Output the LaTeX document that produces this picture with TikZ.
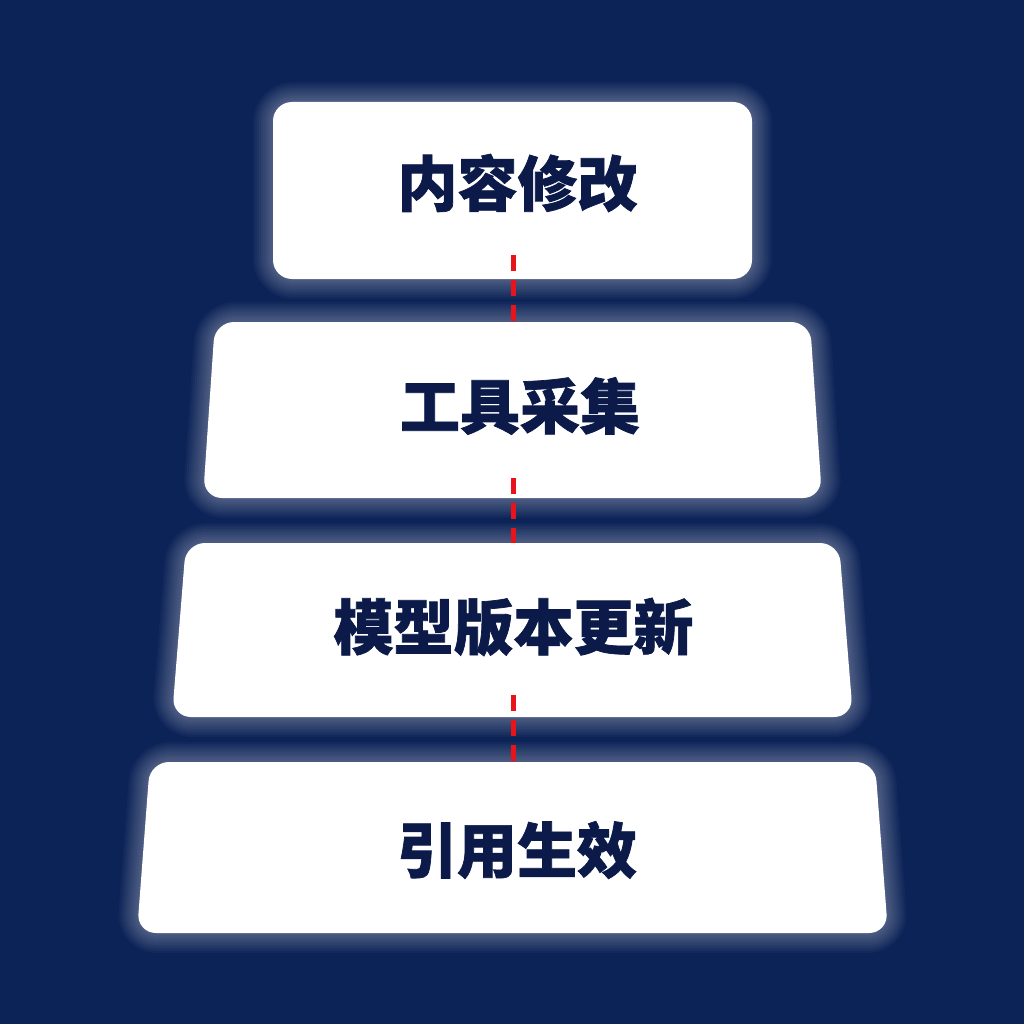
\documentclass[tikz,border=0pt]{standalone}
\usepackage{fontspec}
\newfontfamily\cjk{Noto Sans CJK SC}[BoldFeatures={FakeBold=1.2}]
\definecolor{bg}{HTML}{0C2357}
\definecolor{ink}{HTML}{0B1A48}
\definecolor{dashred}{HTML}{E8141C}
\newcommand\stagebox[5]{% name, top y, bottom y, top half width, bottom half width
  \foreach \w in {40,36,32,28,24,20,16,12,8,4}{
    \draw[draw=white, line width=\w pt, draw opacity=0.03, rounded corners=20pt, line join=round]
      (512.5-#4,#2) -- (512.5+#4,#2) -- (512.5+#5,#3) -- (512.5-#5,#3) -- cycle;
  }
  \fill[white, rounded corners=19pt]
      (512.5-#4,#2) -- (512.5+#4,#2) -- (512.5+#5,#3) -- (512.5-#5,#3) -- cycle;
  \coordinate (#1top) at (513,#2);
  \coordinate (#1bot) at (513,#3);
}
\begin{document}
\begin{tikzpicture}[x=1pt,y=-1pt,
  stagelabel/.style={font=\cjk\bfseries\fontsize{60}{72}\selectfont, text=ink, inner sep=0pt},
  link/.style={draw=dashred, line width=5pt, dash pattern=on 16pt off 9pt}]
\fill[bg] (0,0) rectangle (1024,1024);
\useasboundingbox (0,0) rectangle (1024,1024);
\stagebox{b1}{102}{279}{239.5}{239.5}
\stagebox{b2}{322}{498}{297.5}{309.5}
\stagebox{b3}{543}{717}{326.5}{340.5}
\stagebox{b4}{762}{933}{362.5}{375.5}
\node[stagelabel] (t1) at (517.5,183) {内容修改};
\node[stagelabel] (t2) at (520,406) {工具采集};
\node[stagelabel] (t3) at (513.5,627) {模型版本更新};
\node[stagelabel] (t4) at (517,850) {引用生效};
\coordinate (c1a) at ([yshift=24pt]b1bot);
\coordinate (c2a) at ([yshift=20pt]b2bot);
\coordinate (c3a) at ([yshift=22pt]b3bot);
\draw[link] (c1a) -- (b2top);
\draw[link] (c2a) -- (b3top);
\draw[link] (c3a) -- (b4top);
\end{tikzpicture}
\end{document}
